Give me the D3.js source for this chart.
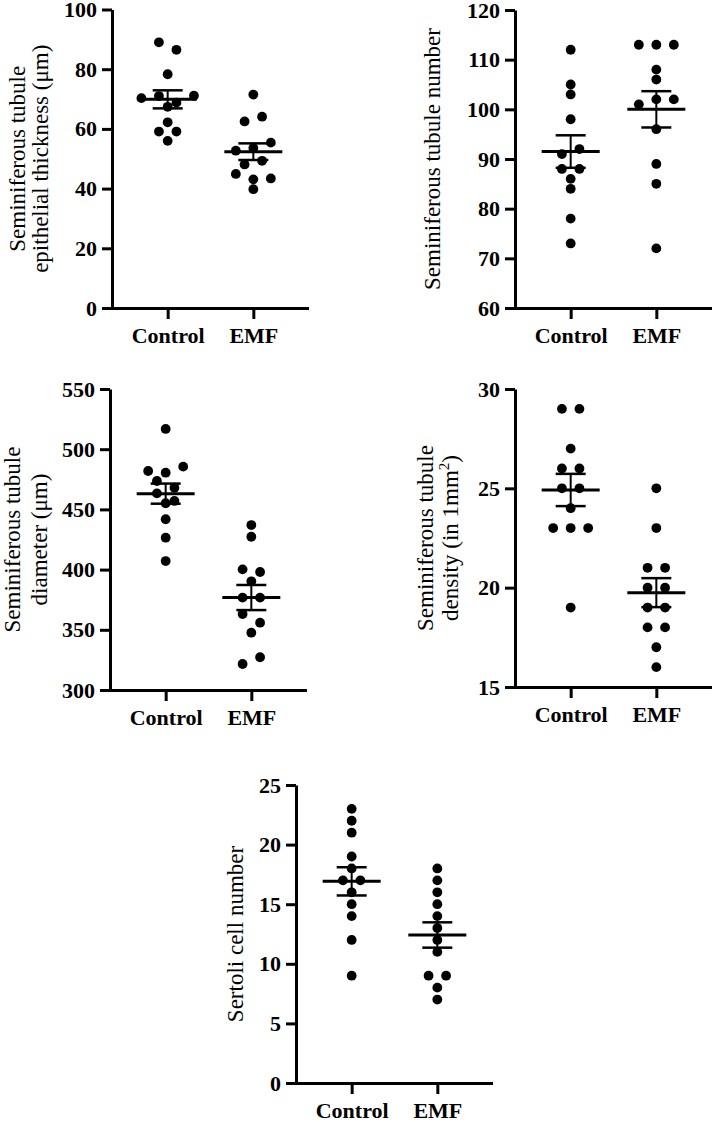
<!DOCTYPE html>
<html>
<head>
<meta charset="utf-8">
<script src="https://cdn.jsdelivr.net/npm/d3@7"></script>
<style>
  body { margin: 0; background: #fff; }
  svg { display: block; }
  svg text { font-family: "Liberation Serif", "Times New Roman", Times, serif; }
</style>
</head>
<body>
<div id="chart-area"></div>
<script>
// groups on every x axis
var groups = ['Control', 'EMF'];

// values, listed top to bottom, left to right
var thicknessControl = [89.0, 86.5, 78.3, 70.3, 71.0, 68.8, 71.1, 67.4, 62.2, 59.1, 59.1, 56.0];
var thicknessEMF = [71.5, 62.5, 64.1, 52.7, 53.6, 55.4, 48.1, 49.3, 44.9, 43.1, 43.4, 39.8];
var thicknessTicks = [0, 20, 40, 60, 80, 100];

var numberControl = [112, 105, 103, 98, 91, 92, 88, 88, 86, 84, 78, 73];
var numberEMF = [113, 113, 113, 108, 106, 101, 102, 102, 96, 89, 85, 72];
var numberTicks = [60, 70, 80, 90, 100, 110, 120];

var diameterControl = [516.8, 481.9, 480.5, 485.5, 473.6, 468.0, 463.3, 455.1, 457.0, 441.8, 426.5, 407.1];
var diameterEMF = [437.0, 427.3, 400.2, 398.0, 390.3, 376.7, 376.7, 363.1, 355.9, 347.6, 321.6, 327.2];
var diameterTicks = [300, 350, 400, 450, 500, 550];

var densityControl = [29, 29, 27, 26, 26, 25, 25, 24, 23, 23, 23, 19];
var densityEMF = [25, 23, 21, 21, 20, 20, 19, 19, 18, 18, 17, 16];
var densityTicks = [15, 20, 25, 30];

var sertoliControl = [23, 22, 21, 19, 18, 17, 17, 16, 15, 14, 12, 9];
var sertoliEMF = [18, 17, 16, 15, 14, 13, 12, 11, 9, 9, 8, 7];
var sertoliTicks = [0, 5, 10, 15, 20, 25];

var width = 718, height = 1122;
var plotWidth = 197;
var radius = 4.9, spacing = 17.5, rowGap = 9;
var font = '"Liberation Serif", "Times New Roman", Times, serif';

var svg = d3.select('#chart-area')
  .append('svg')
    .attr('width', width)
    .attr('height', height)
    .style('background', '#fff');

// layout of each panel (axis x, top and bottom of y range, title lines)
var panels = [
  { left: 112, top: 9.5, bottom: 308, values: [thicknessControl, thicknessEMF], ticks: thicknessTicks,
    title: [['Seminiferous tubule'], ['epithelial thickness (\u03bcm)']], titleX: [25, 48] },
  { left: 515, top: 10, bottom: 308, values: [numberControl, numberEMF], ticks: numberTicks,
    title: [['Seminiferous tubule number']], titleX: [440] },
  { left: 110, top: 389, bottom: 690, values: [diameterControl, diameterEMF], ticks: diameterTicks,
    title: [['Seminiferous tubule'], ['diameter (\u03bcm)']], titleX: [20, 47] },
  { left: 515, top: 389, bottom: 687, values: [densityControl, densityEMF], ticks: densityTicks,
    title: [['Seminiferous tubule'], ['density (in 1mm', '2', ')']], titleX: [433, 458] },
  { left: 296, top: 785, bottom: 1083, values: [sertoliControl, sertoliEMF], ticks: sertoliTicks,
    title: [['Sertoli cell number']], titleX: [243] }
];

// spread points that share a row side by side, like a column scatter
var spread = (values, y) => {
  var order = d3.range(values.length).sort((a, b) => (y(values[a]) - y(values[b])) || (a - b));
  var offsets = new Array(values.length);
  var row = [], start = 0;
  var flush = () => {
    row.sort((a, b) => a - b);
    row.forEach((k, i) => { offsets[k] = (i - (row.length - 1) / 2) * spacing; });
  };
  order.forEach(k => {
    var py = y(values[k]);
    if (row.length && py - start < rowGap) {
      row.push(k);
    } else {
      if (row.length) flush();
      row = [k];
      start = py;
    }
  });
  flush();
  return offsets;
};

var drawPanel = p => {
  var g = svg.append('g')
    .attr('transform', 'translate(' + p.left + ', 0)');

  var yScale = d3.scaleLinear()
    .domain(d3.extent(p.ticks))
    .range([p.bottom, p.top]);

  var xScale = d3.scalePoint()
    .domain(groups)
    .range([0, plotWidth])
    .padding(0.65);

  // y axis
  var yAxisGroup = g.append('g')
    .call(d3.axisLeft(yScale).tickValues(p.ticks).tickSize(10).tickSizeOuter(0).tickPadding(5));

  // x axis
  var xAxisGroup = g.append('g')
    .attr('transform', 'translate(0, ' + p.bottom + ')')
    .call(d3.axisBottom(xScale).tickSize(11).tickSizeOuter(0).tickPadding(8.5));

  [yAxisGroup, xAxisGroup].forEach(ax => {
    ax.attr('font-family', null).attr('font-size', null);
    ax.selectAll('path, line').attr('stroke', '#000').attr('stroke-width', 3);
    ax.selectAll('text')
      .style('font-family', font)
      .style('font-size', '22px')
      .style('font-weight', 'bold')
      .attr('fill', '#000');
  });
  xAxisGroup.select('.domain').attr('d', 'M-1.5,0.5H' + plotWidth);

  // y axis title
  p.title.forEach((line, i) => {
    var t = svg.append('text')
      .attr('transform', 'translate(' + p.titleX[i] + ', ' + ((p.top + p.bottom) / 2) + ') rotate(-90)')
      .attr('text-anchor', 'middle')
      .style('font-family', font)
      .style('font-size', '23px')
      .attr('fill', '#000');
    t.append('tspan').text(line[0]);
    if (line.length > 1) {
      t.append('tspan').style('font-size', '15px').attr('dy', -9).text(line[1]);
      t.append('tspan').attr('dy', 9).text(line[2]);
    }
  });

  groups.forEach((name, gi) => {
    var vals = p.values[gi];
    var cx = xScale(name);
    var offsets = spread(vals, yScale);

    g.append('g')
      .selectAll('circle')
      .data(vals)
      .enter()
      .append('circle')
        .attr('cx', (v, i) => cx + offsets[i])
        .attr('cy', v => yScale(v))
        .attr('r', radius)
        .attr('fill', '#000');

    var mean = d3.mean(vals);
    var sem = d3.deviation(vals) / Math.sqrt(vals.length);

    // mean line
    g.append('line')
      .attr('x1', cx - 29).attr('x2', cx + 29)
      .attr('y1', yScale(mean)).attr('y2', yScale(mean))
      .attr('stroke', '#000').attr('stroke-width', 3);

    // SEM bar with caps
    g.append('line')
      .attr('x1', cx).attr('x2', cx)
      .attr('y1', yScale(mean + sem)).attr('y2', yScale(mean - sem))
      .attr('stroke', '#000').attr('stroke-width', 2);

    [mean + sem, mean - sem].forEach(v => {
      g.append('line')
        .attr('x1', cx - 15).attr('x2', cx + 15)
        .attr('y1', yScale(v)).attr('y2', yScale(v))
        .attr('stroke', '#000').attr('stroke-width', 2.5);
    });
  });
};

panels.forEach(drawPanel);
</script>
</body>
</html>
